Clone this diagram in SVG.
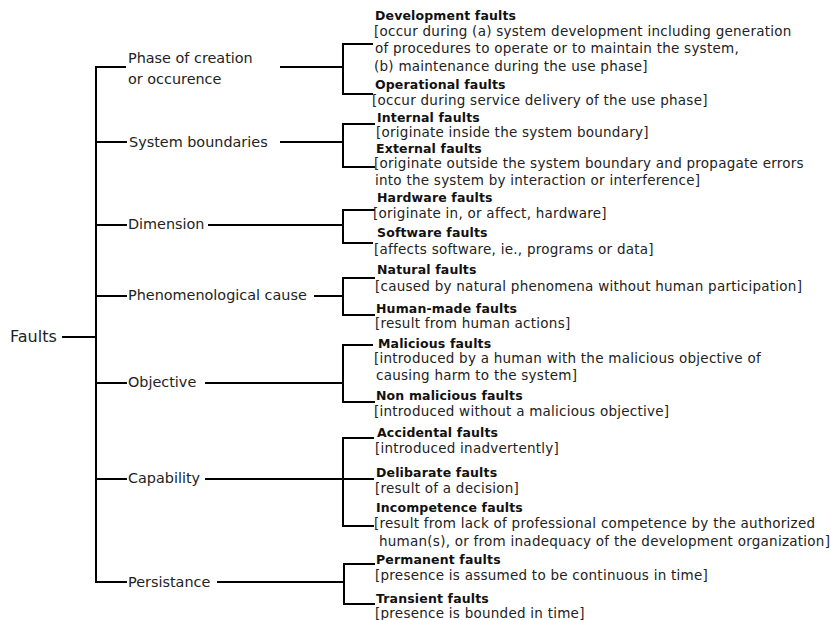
<svg xmlns="http://www.w3.org/2000/svg" width="831" height="620" viewBox="0 0 831 620">
  <style>
    text { font-family: "DejaVu Sans", Verdana, sans-serif; fill: #222; }
    .root { font-size: 16px; }
    .cat { font-size: 14.4px; }
    .title { font-size: 12.5px; font-weight: bold; fill: #111; letter-spacing: 0.15px; }
    .desc { font-size: 13.5px; letter-spacing: 0.25px; }
    .conn line, .conn path { stroke: #000; stroke-width: 2; fill: none; }
  </style>
  <rect width="831" height="620" fill="#fff"/>

  <!-- connectors -->
  <g id="connectors" class="conn">
    <line x1="62" y1="337" x2="96" y2="337"/>
    <line x1="96" y1="66" x2="96" y2="583"/>
    <!-- ticks to categories -->
    <line x1="96" y1="67" x2="126" y2="67"/>
    <line x1="96" y1="142" x2="127" y2="142"/>
    <line x1="96" y1="225" x2="127" y2="225"/>
    <line x1="96" y1="296" x2="127" y2="296"/>
    <line x1="96" y1="383" x2="127" y2="383"/>
    <line x1="96" y1="479" x2="127" y2="479"/>
    <line x1="96" y1="582" x2="127" y2="582"/>
    <!-- category to bracket -->
    <line x1="280" y1="67" x2="343" y2="67"/>
    <path d="M373 44 H343 V94 H373"/>
    <line x1="280" y1="142" x2="343" y2="142"/>
    <path d="M375 124 H343 V167 H375"/>
    <line x1="208" y1="225" x2="343" y2="225"/>
    <path d="M375 210 H343 V243 H373"/>
    <line x1="314" y1="296" x2="343" y2="296"/>
    <path d="M375 278 H343 V315 H375"/>
    <line x1="205" y1="383" x2="343" y2="383"/>
    <path d="M373 345 H343 V402 H375"/>
    <line x1="205" y1="479" x2="374" y2="479"/>
    <path d="M374 438 H343 V526 H374"/>
    <line x1="217" y1="582" x2="344" y2="582"/>
    <path d="M375 564 H344 V604 H375"/>
  </g>

  <g id="faults"><text class="root" x="10" y="342">Faults</text></g>

  <g id="phase">
    <text class="cat" x="128" y="63">Phase of creation</text>
    <text class="cat" x="128" y="84">or occurence</text>
  </g>
  <g id="system-boundaries"><text class="cat" x="129" y="147">System boundaries</text></g>
  <g id="dimension"><text class="cat" x="128" y="229">Dimension</text></g>
  <g id="phenomenological-cause"><text class="cat" x="128" y="300">Phenomenological cause</text></g>
  <g id="objective"><text class="cat" x="128" y="387">Objective</text></g>
  <g id="capability"><text class="cat" x="128" y="483">Capability</text></g>
  <g id="persistance"><text class="cat" x="128" y="587">Persistance</text></g>

  <g id="development-faults">
    <text class="title" x="375" y="20">Development faults</text>
    <text class="desc" x="374" y="36">[occur during (a) system development including generation</text>
    <text class="desc" x="375" y="53">of procedures to operate or to maintain the system,</text>
    <text class="desc" x="374" y="71">(b) maintenance during the use phase]</text>
  </g>
  <g id="operational-faults">
    <text class="title" x="375" y="89">Operational faults</text>
    <text class="desc" x="372" y="105">[occur during service delivery of the use phase]</text>
  </g>
  <g id="internal-faults">
    <text class="title" x="377" y="122">Internal faults</text>
    <text class="desc" x="376" y="137">[originate inside the system boundary]</text>
  </g>
  <g id="external-faults">
    <text class="title" x="376" y="153">External faults</text>
    <text class="desc" x="374" y="168">[originate outside the system boundary and propagate errors</text>
    <text class="desc" x="375" y="185">into the system by interaction or interference]</text>
  </g>
  <g id="hardware-faults">
    <text class="title" x="377" y="202">Hardware faults</text>
    <text class="desc" x="373" y="218">[originate in, or affect, hardware]</text>
  </g>
  <g id="software-faults">
    <text class="title" x="377" y="237">Software faults</text>
    <text class="desc" x="374" y="254">[affects software, ie., programs or data]</text>
  </g>
  <g id="natural-faults">
    <text class="title" x="377" y="274">Natural faults</text>
    <text class="desc" x="375" y="291">[caused by natural phenomena without human participation]</text>
  </g>
  <g id="human-made-faults">
    <text class="title" x="376" y="313">Human-made faults</text>
    <text class="desc" x="375" y="328">[result from  human actions]</text>
  </g>
  <g id="malicious-faults">
    <text class="title" x="378" y="348">Malicious faults</text>
    <text class="desc" x="374" y="363">[introduced by a human with the malicious objective of</text>
    <text class="desc" x="376" y="380">causing harm to the system]</text>
  </g>
  <g id="non-malicious-faults">
    <text class="title" x="376" y="400">Non malicious faults</text>
    <text class="desc" x="374" y="416">[introduced without a malicious objective]</text>
  </g>
  <g id="accidental-faults">
    <text class="title" x="377" y="437">Accidental faults</text>
    <text class="desc" x="375" y="453">[introduced inadvertently]</text>
  </g>
  <g id="delibarate-faults">
    <text class="title" x="376" y="477">Delibarate faults</text>
    <text class="desc" x="375" y="493">[result of a decision]</text>
  </g>
  <g id="incompetence-faults">
    <text class="title" x="376" y="512">Incompetence faults</text>
    <text class="desc" x="374" y="528">[result from lack of professional competence by the authorized</text>
    <text class="desc" x="379" y="546">human(s), or from inadequacy of the development organization]</text>
  </g>
  <g id="permanent-faults">
    <text class="title" x="376" y="564">Permanent faults</text>
    <text class="desc" x="375" y="580">[presence is assumed to be continuous in time]</text>
  </g>
  <g id="transient-faults">
    <text class="title" x="376" y="603">Transient faults</text>
    <text class="desc" x="375" y="618">[presence is bounded in time]</text>
  </g>
</svg>
